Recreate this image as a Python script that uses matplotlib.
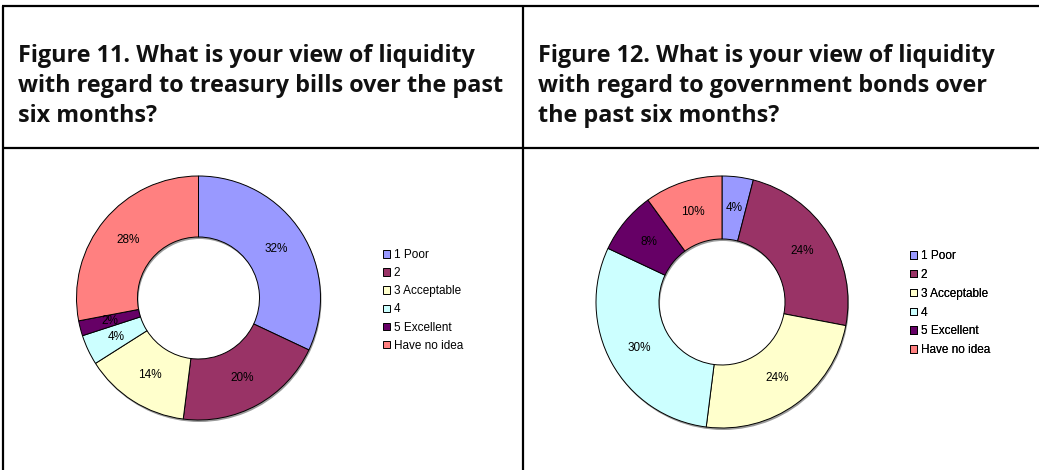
import matplotlib
matplotlib.use("Agg")
import matplotlib.pyplot as plt
from matplotlib.patches import Wedge

# Survey responses (% of respondents)
categories = ["1 Poor", "2", "3 Acceptable", "4", "5 Excellent", "Have no idea"]
treasury_bills = [32, 20, 14, 4, 2, 28]
government_bonds = [4, 24, 24, 30, 8, 10]
colors = ["#9999FF", "#993366", "#FFFFCC", "#CCFFFF", "#660066", "#FF8080"]

title_left = ["Figure 11. What is your view of liquidity",
              "with regard to treasury bills over the past",
              "six months?"]
title_right = ["Figure 12. What is your view of liquidity",
               "with regard to government bonds over",
               "the past six months?"]

W, H = 1039, 470
fig = plt.figure(figsize=(W / 100, H / 100), dpi=100)
ax = fig.add_axes([0, 0, 1, 1])


def py(y):
    # pixel row (from top) -> data y
    return H - y


def donut(values, cx, cy, r, lx, ly, spacing):
    # soft drop shadow under the ring
    ax.add_patch(Wedge((cx + 1, py(cy) - 2), r, 0, 360, width=r * 0.5,
                       facecolor="#9a9a9a", edgecolor="none", zorder=1))
    wedges, _, autotexts = ax.pie(
        values, colors=colors, startangle=90, counterclock=False,
        center=(cx, py(cy)), radius=r, autopct="%.0f%%", pctdistance=0.75,
        wedgeprops=dict(width=r * 0.5, edgecolor="black", linewidth=0.7),
        textprops=dict(fontsize=8.5, family="Liberation Sans", color="black"))
    for w in wedges:
        w.set_zorder(2)
    for t in autotexts:
        t.set_zorder(3)
    leg = ax.legend(wedges, categories, loc="upper left",
                    bbox_to_anchor=(lx, py(ly)), bbox_transform=ax.transData,
                    frameon=False, borderpad=0, borderaxespad=0,
                    handlelength=0.6, handleheight=0.6, handletextpad=0.3,
                    labelspacing=spacing,
                    prop=dict(family="Liberation Sans", size=8.5))
    for h in leg.legend_handles:
        h.set_edgecolor("black")
        h.set_linewidth(0.7)
    ax.add_artist(leg)


donut(treasury_bills, 198.5, 298, 122, 383, 249, 0.52)
donut(government_bonds, 722, 302, 126, 910, 250, 0.58)

ax.set_xlim(0, W)
ax.set_ylim(0, H)
ax.set_aspect("auto")
ax.axis("off")

# panel frame
lk = dict(color="black", linewidth=1.6, solid_capstyle="butt", zorder=5)
ax.plot([2, W], [py(5.5), py(5.5)], **lk)
ax.plot([2, W], [py(148), py(148)], **lk)
ax.plot([2.8, 2.8], [py(5.5), 0], **lk)
ax.plot([523, 523], [py(5.5), 0], **lk)

baselines = [61.5, 92.5, 122.5]
for line, yb in zip(title_left, baselines):
    ax.text(18, py(yb), line, fontsize=16.8, fontweight="bold",
            family="Open Sans", va="baseline", ha="left", color="#111111")
for line, yb in zip(title_right, baselines):
    ax.text(538, py(yb), line, fontsize=16.8, fontweight="bold",
            family="Open Sans", va="baseline", ha="left", color="#111111")

fig.savefig("out.png", dpi=100)
